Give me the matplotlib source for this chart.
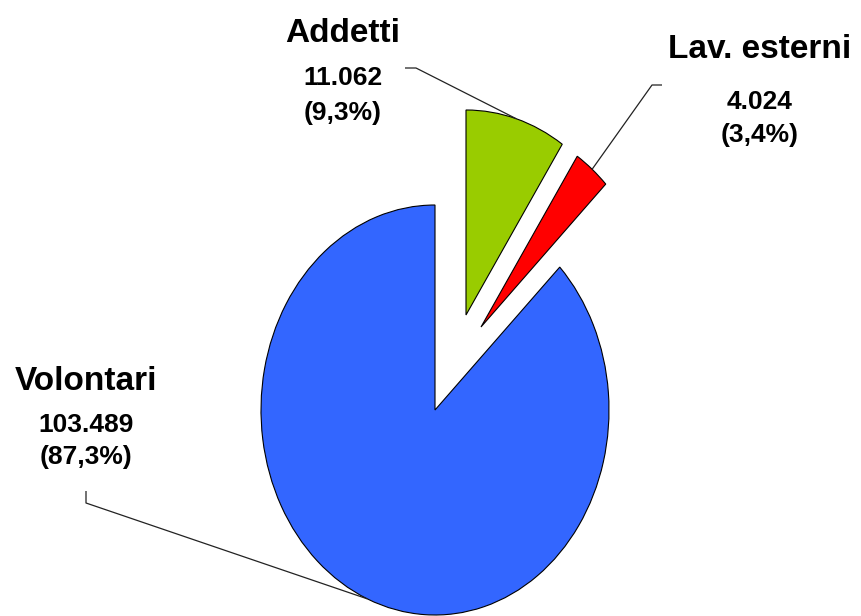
import matplotlib
matplotlib.use("Agg")
import matplotlib.pyplot as plt
import numpy as np

categories = ["Addetti", "Lav. esterni", "Volontari"]
values = [11062, 4024, 103489]
value_labels = ["11.062", "4.024", "103.489"]
pct_labels = ["(9,3%)", "(3,4%)", "(87,3%)"]
colors = ["#99CC00", "#FF0000", "#3366FF"]

W, H = 861, 616
fig = plt.figure(figsize=(W / 100, H / 100), dpi=100)
ax = fig.add_axes([0, 0, 1, 1])

# pie centre and radii in pixels (elliptical pie)
cx, cy, rx, ry = 435, 410, 174, 205
# slice pull-out offsets in pixels (style)
offsets_px = [(31, -95), (46, -83), (0, 0)]

wedges, _ = ax.pie(values, colors=colors, startangle=90, counterclock=False,
                   wedgeprops=dict(edgecolor="black", linewidth=0.8))
for w, (ox, oy) in zip(wedges, offsets_px):
    w.set_center((ox / rx, -oy / ry))
ax.set_aspect("auto")
ax.set_xlim(-cx / rx, (W - cx) / rx)
ax.set_ylim(-(H - cy) / ry, cy / ry)
ax.axis("off")


def p2d(px, py):
    return (px - cx) / rx, (cy - py) / ry


# label layout (pixel positions): name/value/pct baselines, x centre, leader anchor+elbow
layout = {
    "Addetti": dict(x=343, yb=[42, 85, 120], anchor=(405, 68), elbow=(416, 68)),
    "Lav. esterni": dict(x=760, yb=[58, 109, 142], anchor=(662, 85), elbow=(652, 85)),
    "Volontari": dict(x=86, yb=[390, 432, 464], anchor=(86, 491), elbow=(86, 503)),
}

font = "Liberation Sans"
for w, cat, vl, pl in zip(wedges, categories, value_labels, pct_labels):
    L = layout[cat]
    x = L["x"] / W
    ax.text(x, 1 - L["yb"][0] / H, cat, transform=fig.transFigure, ha="center",
            va="baseline", fontsize=24, fontweight="bold", family=font)
    ax.text(x, 1 - L["yb"][1] / H, vl, transform=fig.transFigure, ha="center",
            va="baseline", fontsize=19, fontweight="bold", family=font)
    ax.text(x, 1 - L["yb"][2] / H, pl, transform=fig.transFigure, ha="center",
            va="baseline", fontsize=19, fontweight="bold", family=font)
    # leader line to the middle of the wedge's arc
    th = np.deg2rad((w.theta1 + w.theta2) / 2)
    tx = w.center[0] + w.r * np.cos(th)
    ty = w.center[1] + w.r * np.sin(th)
    ax_, ay_ = p2d(*L["anchor"])
    ex_, ey_ = p2d(*L["elbow"])
    ax.plot([ax_, ex_, tx], [ay_, ey_, ty], color="#222222", lw=0.9,
            solid_capstyle="butt", zorder=3)

fig.savefig("out.png", dpi=100)
